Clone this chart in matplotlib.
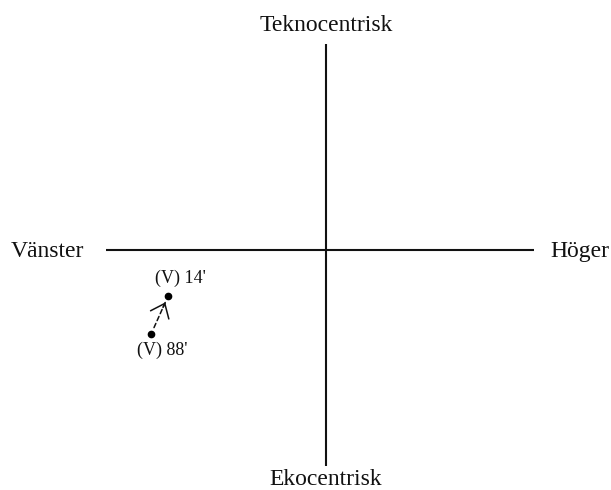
import matplotlib
matplotlib.use('Agg')
import matplotlib.pyplot as plt

plt.rcParams['font.family'] = ['Liberation Serif', 'DejaVu Serif']

# axis labels
top_label = 'Teknocentrisk'
bottom_label = 'Ekocentrisk'
left_label = 'Vänster'
right_label = 'Höger'

# the two positions (x: vänster/höger, y: ekocentrisk/teknocentrisk)
point_names = ["(V) 88'", "(V) 14'"]
point_x = [-8.25, -7.45]
point_y = [-3.96, -2.17]

# extent of the cross
x_line = [-10.4, 9.8]
y_line = [-10.2, 9.7]

fig = plt.figure(figsize=(6.11, 4.9), dpi=100)
ax = fig.add_axes([0, 0, 1, 1])
ax.set_xlim(-15.38, 13.44)
ax.set_ylim(-11.32, 11.79)
ax.axis('off')

ax.plot(x_line, [0, 0], color='#111111', lw=1.5, solid_capstyle='butt')
ax.plot([0, 0], y_line, color='#111111', lw=1.5, solid_capstyle='butt')

ax.text(0, 10.6, top_label, ha='center', va='center', fontsize=17, color='#111111')
ax.text(0, -10.82, bottom_label, ha='center', va='center', fontsize=17, color='#111111')
ax.text(-11.4, -0.05, left_label, ha='right', va='center', fontsize=17, color='#111111')
ax.text(10.57, -0.05, right_label, ha='left', va='center', fontsize=17, color='#111111')

ax.plot(point_x, point_y, 'o', color='black', ms=4.5, ls='none')

# labels: 88' below, 14' above
offsets = [(-10, -11.5), (-9.4, 13)]
for name, px, py, off in zip(point_names, point_x, point_y, offsets):
    ax.annotate(name, (px, py), xytext=off, textcoords='offset points',
                ha='left', va='center', fontsize=13, color='#111111')

# dashed shaft
ax.annotate('', xy=(point_x[1], point_y[1]), xytext=(point_x[0], point_y[0]),
            arrowprops=dict(arrowstyle='-', linestyle=(0, (3, 2)), lw=1.1, color='#111111',
                            shrinkA=5, shrinkB=5))
# solid open head
hx = point_x[1] - 0.3 * (point_x[1] - point_x[0])
hy = point_y[1] - 0.3 * (point_y[1] - point_y[0])
ax.annotate('', xy=(point_x[1], point_y[1]), xytext=(hx, hy),
            arrowprops=dict(arrowstyle='->,head_length=0.5,head_width=0.4', lw=1.1,
                            color='#111111', shrinkA=0, shrinkB=5, mutation_scale=18))

fig.savefig('out.png', dpi=100)
